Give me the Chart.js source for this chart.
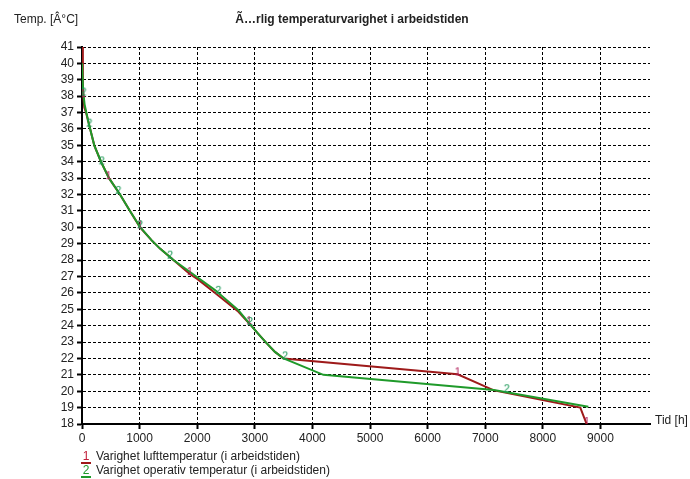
<!DOCTYPE html>
<html>
<head>
<meta charset="utf-8">
<script src="https://cdn.jsdelivr.net/npm/chart.js@4.4.1/dist/chart.umd.min.js"></script>
<style>
    html, body { margin: 0; padding: 0; background: #fff; }
    #wrap { position: relative; width: 690px; height: 479px; }
    #chart { display: block; }
    .legend { position: absolute; left: 81px; font: 12px 'Liberation Sans', Arial, sans-serif; color: #222; white-space: nowrap; }
    .legend span { display: inline-block; width: 10px; margin-right: 5px; text-align: center; border-bottom: 2px solid; line-height: 11px; }
</style>
</head>
<body>
<div id="wrap">
    <canvas id="chart" width="690" height="479"></canvas>
    <div class="legend" style="top:449px"><span style="color:#c0203a;border-color:#a01818">1</span>Varighet lufttemperatur (i arbeidstiden)</div>
    <div class="legend" style="top:463px"><span style="color:#1f9a2a;border-color:#1f9a2a">2</span>Varighet operativ temperatur (i arbeidstiden)</div>
</div>
<script>
// 文字
const titleText = 'Ã…rlig temperaturvarighet i arbeidstiden';
const yAxisText = 'Temp. [Â°C]';
const xAxisText = 'Tid [h]';

// 坐标轴
const xMin = 0, xMax = 9860;
const yMin = 18, yMax = 41;
const xTicks = [0, 1000, 2000, 3000, 4000, 5000, 6000, 7000, 8000, 9000];
const yTicks = [18, 19, 20, 21, 22, 23, 24, 25, 26, 27, 28, 29, 30, 31, 32, 33, 34, 35, 36, 37, 38, 39, 40, 41];

// 1: 空气温度持续时间 (timer, °C)
const airHours = [0, 15, 40, 70, 120, 213, 330, 469, 660, 833, 1007, 1210, 1354, 1587, 1870, 2000, 2300, 2700, 2900, 3060, 3200, 3350, 3500, 6520, 7150, 8650, 8760];
const airTemps = [41, 38.3, 37.3, 37.0, 36.3, 35.0, 34.0, 33.0, 32.0, 31.0, 30.0, 29.2, 28.7, 28.0, 27.15, 26.85, 26.02, 24.9, 24.15, 23.5, 22.95, 22.4, 22.0, 21.03, 20.05, 19.0, 18.0];

// 2: 操作温度持续时间
const opHours = [0, 20, 45, 75, 120, 213, 330, 469, 660, 833, 1007, 1210, 1354, 1587, 1990, 2309, 2714, 2900, 3060, 3200, 3350, 3500, 4190, 7150, 8790];
const opTemps = [40, 38.3, 37.5, 37.0, 36.3, 35.0, 34.0, 33.0, 32.0, 31.0, 30.03, 29.2, 28.7, 28.0, 26.98, 26.17, 24.95, 24.15, 23.5, 22.95, 22.4, 22.0, 21.0, 20.08, 19.05];

// 曲线上的编号标记
const airMarkHours = [20, 457, 1007, 1870, 2900, 6520, 8760];
const airMarkTemps = [38.0, 33.0, 30.0, 27.15, 24.15, 21.03, 18.0];
const opMarkHours = [25, 127, 342, 630, 1007, 1528, 2366, 2917, 3524, 7373];
const opMarkTemps = [38.1, 36.2, 33.9, 32.1, 30.0, 28.15, 26.0, 24.1, 22.0, 20.0];

const FONT = "'Liberation Sans', Arial, sans-serif";

// 数字标记图 (数字底部在点上)
function digitMarker(text, color) {
    const c = document.createElement('canvas');
    c.width = 10;
    c.height = 22;
    const g = c.getContext('2d');
    g.font = '11px ' + FONT;
    g.fillStyle = color;
    g.textAlign = 'center';
    g.textBaseline = 'alphabetic';
    g.fillText(text, 5, 12);
    return c;
}

function toPoints(xs, ys) {
    return xs.map((x, i) => ({ x: x, y: ys[i] }));
}

// 额外文字
const textPlugin = {
    id: 'texts',
    afterDraw(chart) {
        const ctx = chart.ctx;
        const area = chart.chartArea;
        ctx.save();
        ctx.fillStyle = '#222';
        ctx.textBaseline = 'middle';
        ctx.font = '12px ' + FONT;
        ctx.textAlign = 'left';
        ctx.fillText(yAxisText, 14, 20);
        ctx.fillText(xAxisText, area.right + 5, area.bottom - 3);
        ctx.font = 'bold 12px ' + FONT;
        ctx.textAlign = 'center';
        ctx.fillText(titleText, 352, 20);
        ctx.restore();
    }
};

const tickFont = { family: FONT, size: 12 };
const gridOpts = { color: '#000', lineWidth: 1, tickColor: '#000', tickWidth: 2, tickLength: 5 };
const borderOpts = { display: true, color: '#000', width: 2, dash: [3, 2] };

new Chart(document.getElementById('chart').getContext('2d'), {
    type: 'scatter',
    data: {
        datasets: [
            {
                data: toPoints(opHours, opTemps),
                showLine: true,
                borderColor: '#1f9a2a',
                borderWidth: 2,
                pointRadius: 0,
                order: 1
            },
            {
                data: toPoints(airHours, airTemps),
                showLine: true,
                borderColor: '#9e1a1a',
                borderWidth: 2,
                pointRadius: 0,
                order: 2
            },
            {
                data: toPoints(opMarkHours, opMarkTemps),
                showLine: false,
                pointStyle: digitMarker('2', '#1f9a5a'),
                pointRadius: 4,
                order: 0
            },
            {
                data: toPoints(airMarkHours, airMarkTemps),
                showLine: false,
                pointStyle: digitMarker('1', '#b01c58'),
                pointRadius: 4,
                order: 0
            }
        ]
    },
    options: {
        responsive: false,
        animation: false,
        layout: { padding: { top: 47, right: 40, left: 0, bottom: 0 } },
        plugins: { legend: { display: false }, tooltip: { enabled: false } },
        scales: {
            x: {
                type: 'linear',
                min: xMin,
                max: xMax,
                afterBuildTicks: scale => { scale.ticks = xTicks.map(v => ({ value: v })); },
                ticks: { color: '#222', font: tickFont, autoSkip: false, maxRotation: 0, padding: 2, callback: v => String(v) },
                grid: gridOpts,
                border: borderOpts,
                afterFit: scale => { scale.height = 55; }
            },
            y: {
                min: yMin,
                max: yMax,
                afterBuildTicks: scale => { scale.ticks = yTicks.map(v => ({ value: v })); },
                ticks: { color: '#222', font: tickFont, autoSkip: false, padding: 3, callback: v => String(v) },
                grid: gridOpts,
                border: borderOpts,
                afterFit: scale => { scale.width = 82; }
            }
        }
    },
    plugins: [textPlugin]
});
</script>
</body>
</html>
